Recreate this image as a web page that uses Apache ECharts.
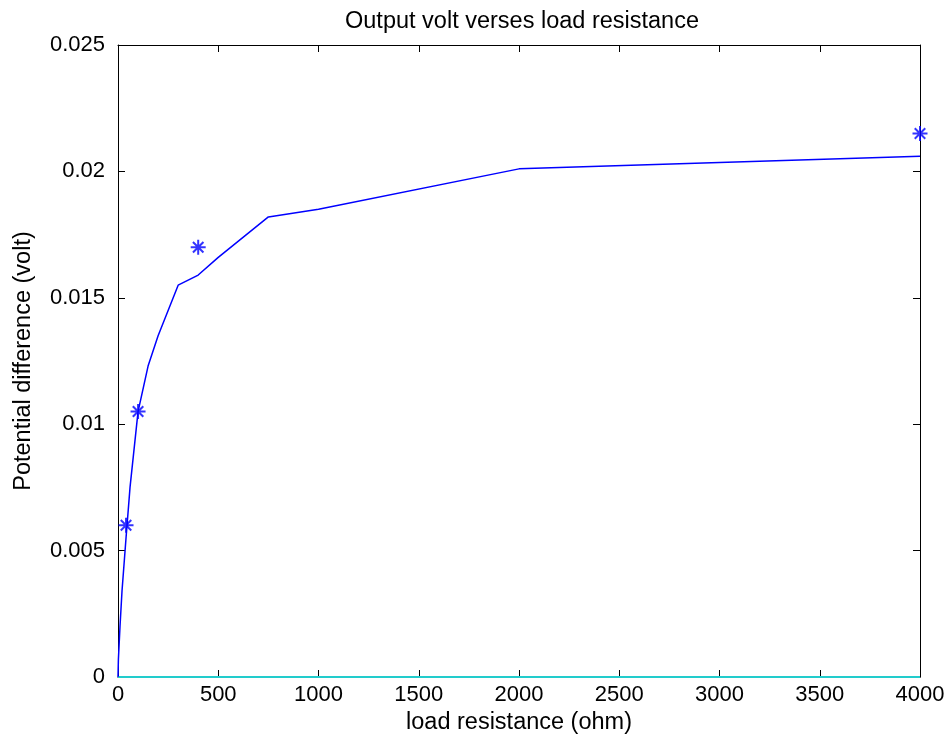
<!DOCTYPE html>
<html>
<head>
<meta charset="utf-8">
<script src="https://cdn.jsdelivr.net/npm/echarts@6/dist/echarts.min.js"></script>
<style>html,body{margin:0;padding:0;background:#fff}#c{width:950px;height:747px}</style>
</head>
<body>
<div id="c"></div>
<script>
// Fitted curve (line)
const curveR = [0, 2, 10, 20, 40, 60, 100, 150, 200, 300, 400, 500, 750, 1000, 2000, 4000];
const curveV = [0, 0.0007, 0.002, 0.0034, 0.0055, 0.0075, 0.0105, 0.0123, 0.0135, 0.0155, 0.0159, 0.0166, 0.0182, 0.0185, 0.0201, 0.0206];
// Measured points (stars)
const measR = [40, 100, 400, 4000];
const measV = [0.006, 0.0105, 0.017, 0.0215];
// Baseline (cyan)
const baseR = [0, 4000];
const baseV = [0, 0];
const xTicks = [0, 500, 1000, 1500, 2000, 2500, 3000, 3500, 4000];
const yTicks = [0, 0.005, 0.01, 0.015, 0.02, 0.025];

const FONT = "'Liberation Sans', Arial, sans-serif";
const star = 'path://M0,-1L0,1M-1,0L1,0M-0.7,-0.7L0.7,0.7M-0.7,0.7L0.7,-0.7';
const zip = (a, b) => a.map((v, i) => [v, b[i]]);

const axisCommon = {
  axisLine: { show: true, onZero: false, lineStyle: { color: '#000', width: 1 } },
  axisTick: { show: true, inside: true, length: 7, lineStyle: { color: '#000' } },
  splitLine: { show: false }
};

const chart = echarts.init(document.getElementById('c'), null, { renderer: 'canvas' });
chart.setOption({
  backgroundColor: '#fff',
  animation: false,
  title: {
    text: 'Output volt verses load resistance',
    left: 517, top: 5, textAlign: 'center',
    textStyle: { fontFamily: FONT, fontSize: 23.5, fontWeight: 'normal', color: '#000' }
  },
  grid: { left: 118, right: 30, top: 45, bottom: 70, outerBoundsMode: 'none', containLabel: false },
  xAxis: [
    Object.assign({}, axisCommon, {
      type: 'value', min: 0, max: 4000, interval: 500, position: 'bottom',
      name: 'load resistance (ohm)', nameLocation: 'middle', nameGap: 32,
      nameTextStyle: { fontFamily: FONT, fontSize: 23.5, color: '#000', verticalAlign: 'middle' },
      axisLabel: { fontFamily: FONT, fontSize: 22, color: '#000', margin: 7,
        formatter: v => String(v) }
    }),
    Object.assign({}, axisCommon, {
      type: 'value', min: 0, max: 4000, interval: 500, position: 'top',
      axisLabel: { show: false }
    })
  ],
  yAxis: [
    Object.assign({}, axisCommon, {
      type: 'value', min: 0, max: 0.025, interval: 0.005, position: 'left',
      name: 'Potential difference (volt)', nameLocation: 'middle', nameGap: 94,
      nameTextStyle: { fontFamily: FONT, fontSize: 23.5, color: '#000', verticalAlign: 'middle' },
      axisLabel: { fontFamily: FONT, fontSize: 22, color: '#000', margin: 13,
        formatter: v => (v === 0 ? '0' : String(+v.toFixed(3))) }
    }),
    Object.assign({}, axisCommon, {
      type: 'value', min: 0, max: 0.025, interval: 0.005, position: 'right',
      axisLabel: { show: false }
    })
  ],
  series: [
    {
      type: 'line', data: zip(baseR, baseV), symbol: 'none',
      lineStyle: { color: '#22CCCC', width: 2 }, z: 1
    },
    {
      type: 'line', data: zip(curveR, curveV), symbol: 'none',
      lineStyle: { color: '#0000FF', width: 1.5 }, z: 2
    },
    {
      type: 'scatter', data: zip(measR, measV), symbol: star, symbolSize: 15,
      itemStyle: { color: '#0000FF', borderColor: '#0000FF', borderWidth: 2 }, z: 3
    }
  ]
});
</script>
</body>
</html>
